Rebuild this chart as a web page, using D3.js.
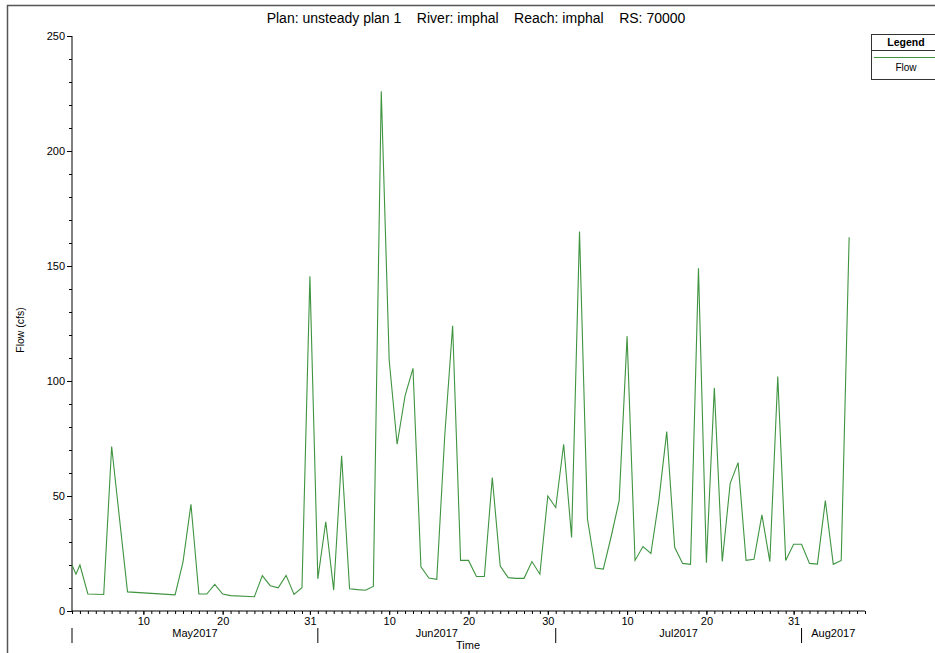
<!DOCTYPE html>
<html>
<head>
<meta charset="utf-8">
<script src="https://cdn.jsdelivr.net/npm/d3@7"></script>
<style>
  body { margin: 0; background: #fff; }
  svg { display: block; font-family: "Liberation Sans", Arial, sans-serif; }
</style>
</head>
<body>
<div id="chart"></div>
<script>
// flow at RS 70000
var times = [
  "2017-05-01 00:00", "2017-05-01 12:00", "2017-05-02 00:00", "2017-05-03 00:00", "2017-05-05 00:00",
  "2017-05-06 00:00", "2017-05-08 00:00", "2017-05-14 00:00", "2017-05-15 00:00", "2017-05-16 00:00",
  "2017-05-17 00:00", "2017-05-18 00:00", "2017-05-19 00:00", "2017-05-20 00:00", "2017-05-21 00:00",
  "2017-05-24 00:00", "2017-05-25 00:00", "2017-05-26 00:00", "2017-05-27 00:00", "2017-05-28 00:00",
  "2017-05-29 00:00", "2017-05-30 00:00", "2017-05-31 00:00",
  "2017-06-01 00:00", "2017-06-02 00:00", "2017-06-03 00:00", "2017-06-04 00:00", "2017-06-05 00:00",
  "2017-06-06 00:00", "2017-06-07 00:00", "2017-06-08 00:00", "2017-06-09 00:00", "2017-06-10 00:00",
  "2017-06-11 00:00", "2017-06-12 00:00", "2017-06-13 00:00", "2017-06-14 00:00", "2017-06-15 00:00",
  "2017-06-16 00:00", "2017-06-17 00:00", "2017-06-18 00:00", "2017-06-19 00:00", "2017-06-20 00:00",
  "2017-06-21 00:00", "2017-06-22 00:00", "2017-06-23 00:00", "2017-06-24 00:00", "2017-06-25 00:00",
  "2017-06-26 00:00", "2017-06-27 00:00", "2017-06-28 00:00", "2017-06-29 00:00", "2017-06-30 00:00",
  "2017-07-01 00:00", "2017-07-02 00:00", "2017-07-03 00:00", "2017-07-04 00:00", "2017-07-05 00:00",
  "2017-07-06 00:00", "2017-07-07 00:00", "2017-07-08 00:00", "2017-07-09 00:00", "2017-07-10 00:00",
  "2017-07-11 00:00", "2017-07-12 00:00", "2017-07-13 00:00", "2017-07-14 00:00", "2017-07-15 00:00",
  "2017-07-16 00:00", "2017-07-17 00:00", "2017-07-18 00:00", "2017-07-19 00:00", "2017-07-20 00:00",
  "2017-07-21 00:00", "2017-07-22 00:00", "2017-07-23 00:00", "2017-07-24 00:00", "2017-07-25 00:00",
  "2017-07-26 00:00", "2017-07-27 00:00", "2017-07-28 00:00", "2017-07-29 00:00", "2017-07-30 00:00",
  "2017-07-31 00:00",
  "2017-08-01 00:00", "2017-08-02 00:00", "2017-08-03 00:00", "2017-08-04 00:00", "2017-08-05 00:00",
  "2017-08-06 00:00", "2017-08-07 00:00"
];
var flow = [
  20, 16, 20, 7.4, 7.2,
  71.5, 8.3, 7.0, 21.4, 46.4,
  7.4, 7.4, 11.6, 7.4, 6.7,
  6.2, 15.4, 11.0, 10.1, 15.5,
  7.2, 10.1, 145.5,
  14.0, 38.8, 9.1, 67.5, 9.7,
  9.3, 9.0, 10.7, 226, 109,
  72.5, 93.5, 105.5, 19.2, 14.3,
  13.8, 76, 124, 22, 22,
  15, 15, 58, 19.5, 14.5,
  14.2, 14.2, 21.5, 16, 50,
  45, 72.5, 32, 165, 40,
  18.7, 18.2, 32.5, 48, 119.5,
  22, 28, 25, 48, 78,
  27.7, 20.7, 20.3, 149, 21,
  97, 21.5, 55.5, 64.5, 22,
  22.5, 41.8, 21.5, 102, 22,
  29,
  29, 20.7, 20.4, 48, 20.3,
  22, 162.5
];
var yTicks = [0, 50, 100, 150, 200, 250];
var dayLabels = ["2017-05-10", "2017-05-20", "2017-05-31", "2017-06-10", "2017-06-20",
                 "2017-06-30", "2017-07-10", "2017-07-20", "2017-07-31"];
var months = ["2017-05-01", "2017-06-01", "2017-07-01", "2017-08-01"];
var title = "Plan: unsteady plan 1    River: imphal    Reach: imphal    RS: 70000";

var width = 935, height = 653;
var parseTime = d3.timeParse("%Y-%m-%d %H:%M");
var parseDay = d3.timeParse("%Y-%m-%d");

var data = times.map(function(t, i) { return { t: parseTime(t), v: flow[i] }; });

var svg = d3.select("#chart").append("svg")
    .attr("width", width)
    .attr("height", height);

var xStart = parseDay("2017-05-01"), xEnd = parseDay("2017-08-09");
var xScale = d3.scaleTime().domain([xStart, xEnd]).range([72, 865]);
var yScale = d3.scaleLinear().domain([0, 250]).range([611, 36]);

// outer frame
svg.append("rect")
    .attr("x", 7.5).attr("y", 5.5)
    .attr("width", 1000).attr("height", 1000)
    .attr("fill", "none").attr("stroke", "#555").attr("stroke-width", 1.5);

svg.append("text")
    .attr("x", 476).attr("y", 23)
    .attr("text-anchor", "middle")
    .attr("font-size", 14)
    .attr("xml:space", "preserve")
    .style("white-space", "pre")
    .text(title);

// y axis
var yAxis = svg.append("g").attr("transform", "translate(72,0)");
yAxis.append("g")
    .call(d3.axisLeft(yScale).tickValues(d3.range(0, 251, 10)).tickSize(3).tickFormat(""))
    .call(function(g) { g.select(".domain").remove(); });
yAxis.append("g")
    .call(d3.axisLeft(yScale).tickValues(yTicks).tickSize(5).tickPadding(2))
    .call(function(g) {
        g.select(".domain").attr("d", "M0," + yScale(250) + "V" + yScale(0));
        g.selectAll("text").attr("font-size", 11).attr("font-family", "Liberation Sans, Arial");
    });

svg.append("text")
    .attr("transform", "translate(24," + 330 + ") rotate(-90)")
    .attr("text-anchor", "middle")
    .attr("font-size", 10.5)
    .text("Flow (cfs)");

// x axis
var xAxis = svg.append("g").attr("transform", "translate(0,611)");
xAxis.append("g")
    .call(d3.axisBottom(xScale).ticks(d3.timeDay.every(1)).tickSize(3).tickFormat(""))
    .call(function(g) { g.select(".domain").attr("d", "M72,0H865"); });
xAxis.append("g")
    .call(d3.axisBottom(xScale).tickValues(dayLabels.map(parseDay)).tickSize(4).tickPadding(2)
        .tickFormat(d3.timeFormat("%-d")))
    .call(function(g) {
        g.select(".domain").remove();
        g.selectAll("text").attr("font-size", 11).attr("font-family", "Liberation Sans, Arial");
    });

// month separators and labels
var monthDates = months.map(parseDay);
svg.append("g").selectAll("line")
    .data(monthDates)
    .join("line")
    .attr("x1", function(d) { return xScale(d); })
    .attr("x2", function(d) { return xScale(d); })
    .attr("y1", 628).attr("y2", 643)
    .attr("stroke", "#000").attr("stroke-width", 1);

svg.append("g").selectAll("text")
    .data(monthDates)
    .join("text")
    .attr("x", function(d) {
        var end = d3.min([d3.timeMonth.offset(d, 1), xEnd]);
        return (xScale(d) + xScale(end)) / 2;
    })
    .attr("y", 637)
    .attr("text-anchor", "middle")
    .attr("font-size", 11)
    .text(d3.timeFormat("%b%Y"));

svg.append("text")
    .attr("x", 468).attr("y", 649)
    .attr("text-anchor", "middle")
    .attr("font-size", 11)
    .text("Time");

// flow line
var line = d3.line()
    .x(function(d) { return xScale(d.t); })
    .y(function(d) { return yScale(d.v); });

svg.append("path")
    .datum(data)
    .attr("fill", "none")
    .attr("stroke", "#3f9440")
    .attr("stroke-width", 1.1)
    .attr("d", line);

// legend
var legend = svg.append("g").attr("transform", "translate(871,34)");
legend.append("rect")
    .attr("x", 0.5).attr("y", 0.5).attr("width", 90).attr("height", 45)
    .attr("fill", "#fff").attr("stroke", "#333");
legend.append("line")
    .attr("x1", 0.5).attr("x2", 91).attr("y1", 16.5).attr("y2", 16.5)
    .attr("stroke", "#333");
legend.append("text")
    .attr("x", 35).attr("y", 12)
    .attr("text-anchor", "middle")
    .attr("font-size", 10.5).attr("font-weight", "bold")
    .text("Legend");
legend.append("line")
    .attr("x1", 3).attr("x2", 91).attr("y1", 23.5).attr("y2", 23.5)
    .attr("stroke", "#3f9440").attr("stroke-width", 1.2);
legend.append("text")
    .attr("x", 35).attr("y", 37)
    .attr("text-anchor", "middle")
    .attr("font-size", 10)
    .text("Flow");
</script>
</body>
</html>
